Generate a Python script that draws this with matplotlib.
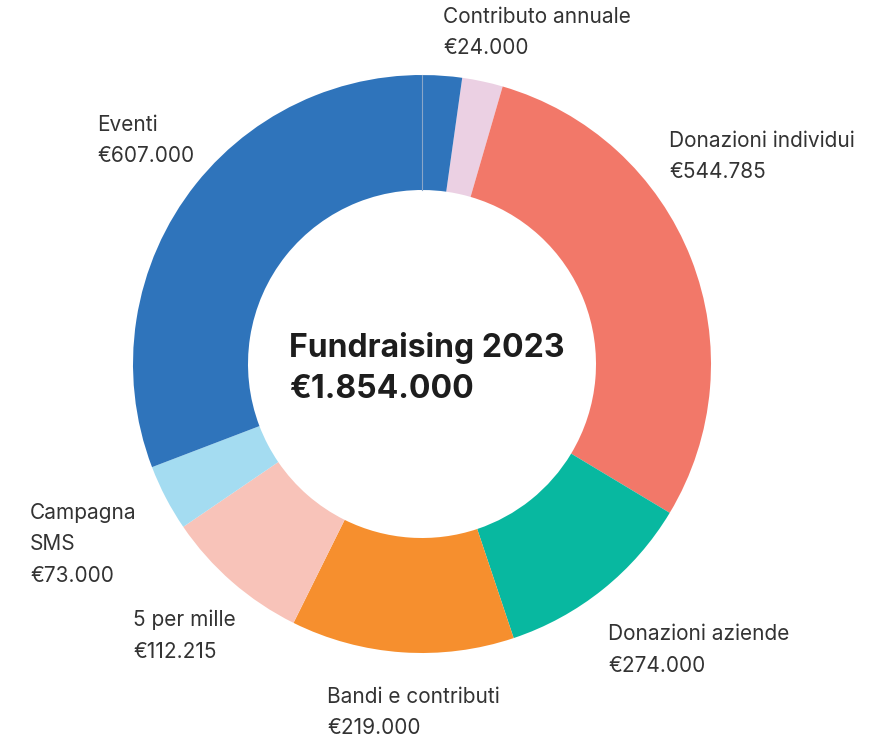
import matplotlib.pyplot as plt
import numpy as np

# data (clockwise from the top)
categories = ["Contributo annuale", "Donazioni individui", "Donazioni aziende",
              "Bandi e contributi", "5 per mille", "Campagna\nSMS", "Eventi"]
# share of the ring (%) as drawn in the reference
shares = [2.28, 29.11, 11.25, 12.47, 8.14, 3.72, 33.03]
value_labels = ["€24.000", "€544.785", "€274.000", "€219.000",
                "€112.215", "€73.000", "€607.000"]
colors = ["#ebd0e3", "#f27869", "#08b8a0", "#f68f2e", "#f8c3b9", "#a4dcf1", "#2f74bb"]
title = "Fundraising 2023"
total_label = "€1.854.000"

# label anchors in pixels (left x, top-line centre y)
label_pos = [(443, 17), (669, 141), (608, 634), (327, 697),
             (133, 620), (30, 513), (97, 125)]

W, H = 894, 742
cx, cy = 422, 364
R = 289
ring = 115

plt.rcParams['font.family'] = ['Inter', 'DejaVu Sans']

fig = plt.figure(figsize=(W / 100, H / 100), dpi=100)
ax = fig.add_axes([0, 0, 1, 1])

ax.pie(shares, colors=colors, radius=R, startangle=90 - 8, counterclock=False,
       wedgeprops=dict(width=ring, linewidth=0), center=(0, 0), frame=True)
ax.set_xlim(-cx, W - cx)
ax.set_ylim(-(H - cy), cy)
ax.set_aspect('equal')
ax.axis('off')

# faint seam at 12 o'clock
ax.plot([0, 0], [R - ring, R], color="#8aa6c8", lw=0.8)

for name, val, (px, py) in zip(categories, value_labels, label_pos):
    lines = name.split("\n") + [val]
    for k, t in enumerate(lines):
        ax.text(px - cx, cy - (py + 31.5 * k), t, fontsize=15, color="#333333",
                ha='left', va='center')

ax.text(289 - cx, cy - 348, title, fontsize=23, fontweight='bold',
        color="#1d1d1d", ha='left', va='center')
ax.text(289 - cx, cy - 390, total_label, fontsize=23, fontweight='bold',
        color="#1d1d1d", ha='left', va='center')

plt.savefig("out.png", dpi=100)
